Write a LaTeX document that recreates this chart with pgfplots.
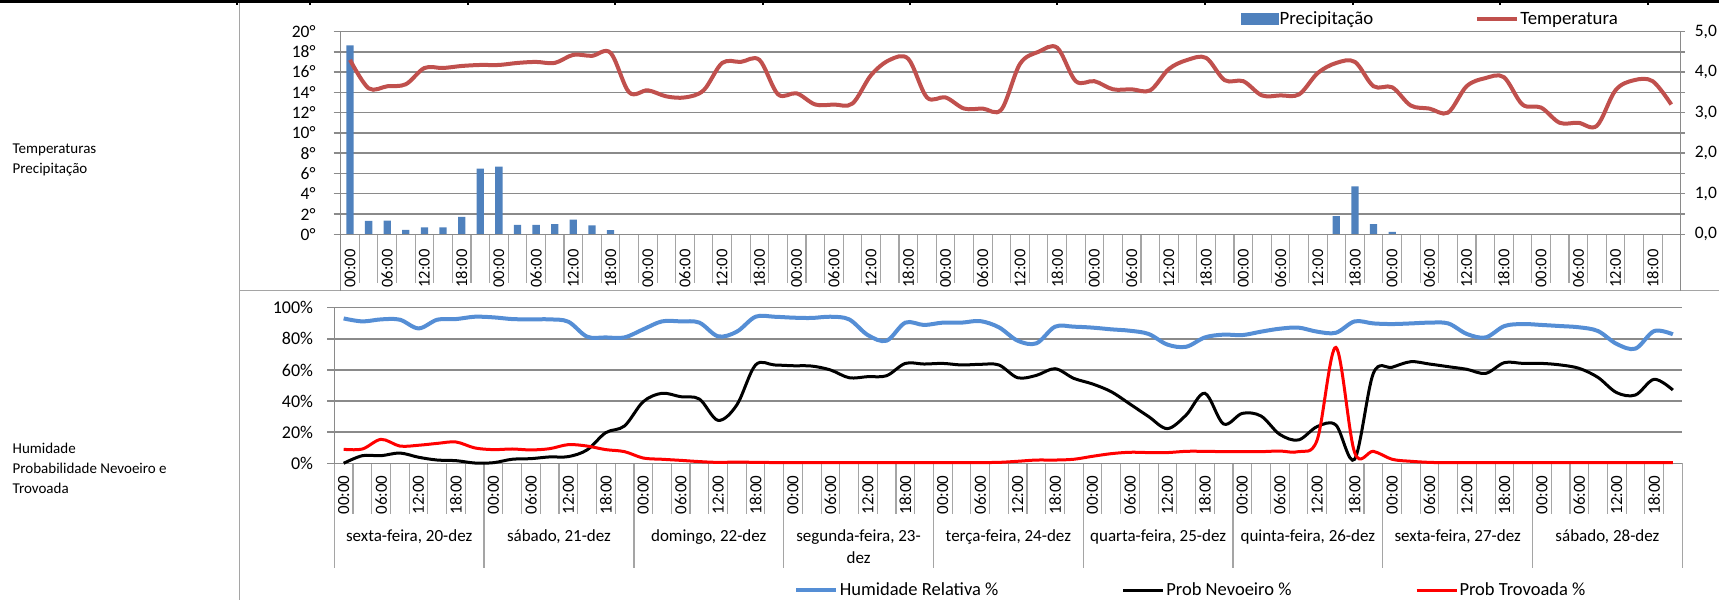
\documentclass[border=0pt]{standalone}
\usepackage{fontspec}
\setmainfont{Carlito}
\usepackage{pgfplots}
\pgfplotsset{compat=1.18}
\usepackage{pgfplotstable}

\definecolor{precip}{RGB}{79,129,189}
\definecolor{temp}{RGB}{192,80,77}
\definecolor{hum}{RGB}{85,142,213}
\definecolor{thun}{RGB}{255,0,0}
\definecolor{gridc}{RGB}{138,138,138}
\definecolor{cellc}{RGB}{165,165,165}

\pgfplotstableread{
i T
0 17.2
1 14.4
2 14.6
3 14.8
4 16.4
5 16.4
6 16.6
7 16.7
8 16.7
9 16.9
10 17.0
11 16.9
12 17.7
13 17.6
14 17.9
15 14.0
16 14.2
17 13.6
18 13.5
19 14.2
20 16.9
21 17.0
22 17.2
23 13.8
24 13.9
25 12.8
26 12.8
27 12.9
28 15.7
29 17.2
30 17.3
31 13.5
32 13.5
33 12.4
34 12.4
35 12.3
36 16.8
37 18.0
38 18.4
39 15.1
40 15.1
41 14.3
42 14.3
43 14.2
44 16.3
45 17.2
46 17.4
47 15.2
48 15.1
49 13.7
50 13.7
51 13.8
52 15.9
53 16.9
54 17.0
55 14.6
56 14.5
57 12.7
58 12.4
59 12.0
60 14.6
61 15.4
62 15.5
63 12.8
64 12.5
65 11.0
66 11.0
67 10.7
68 14.2
69 15.2
70 15.1
71 12.8
}\temptable

\pgfplotstableread{
i P
0 4.66
1 0.33
2 0.34
3 0.11
4 0.17
5 0.17
6 0.43
7 1.62
8 1.67
9 0.23
10 0.23
11 0.25
12 0.36
13 0.22
14 0.10
53 0.45
54 1.18
55 0.25
56 0.06
}\preciptable

\pgfplotstableread{
i H F R
0 93.1 0.0 9.0
1 91.2 4.9 9.2
2 92.5 4.9 15.4
3 92.3 6.6 11.1
4 86.7 3.9 11.6
5 92.3 2.1 12.8
6 92.7 1.7 13.7
7 94.2 0.2 9.9
8 93.8 0.4 8.8
9 92.7 2.6 9.2
10 92.5 3.0 8.6
11 92.5 4.1 9.4
12 91.0 4.3 12.0
13 81.4 8.6 11.1
14 80.9 19.7 8.8
15 80.9 24.0 7.5
16 86.1 39.6 3.4
17 91.2 45.0 2.6
18 91.2 42.8 1.9
19 90.4 41.3 1.1
20 81.6 27.6 0.6
21 84.6 37.5 0.8
22 94.2 63.2 0.6
23 94.2 63.2 0.5
24 93.6 62.7 0.5
25 93.4 62.5 0.5
26 94.2 60.0 0.5
27 92.5 55.0 0.5
28 82.4 55.7 0.5
29 78.8 56.3 0.5
30 90.4 64.2 0.5
31 88.9 63.8 0.5
32 90.4 64.2 0.5
33 90.4 63.2 0.5
34 91.4 63.6 0.5
35 87.4 63.2 0.6
36 78.8 55.0 1.3
37 77.1 56.5 2.1
38 87.8 60.8 2.1
39 87.8 54.6 2.6
40 87.2 51.0 4.5
41 86.1 46.0 6.2
42 85.2 38.1 7.1
43 83.1 30.0 6.9
44 76.3 22.3 6.9
45 74.9 31.0 7.7
46 80.9 45.0 7.7
47 82.7 25.3 7.5
48 82.4 32.1 7.5
49 84.6 30.4 7.5
50 86.5 18.6 7.9
51 87.2 15.0 7.5
52 84.6 23.6 15.0
53 83.9 24.6 74.5
54 91.2 2.6 7.0
55 89.9 57.8 7.7
56 89.5 61.7 2.6
57 89.9 65.3 1.3
58 90.4 63.8 0.6
59 89.9 62.1 0.4
60 83.1 60.4 0.4
61 80.9 57.8 0.4
62 88.2 64.7 0.4
63 89.5 64.2 0.4
64 88.9 64.2 0.4
65 88.2 63.2 0.4
66 87.4 61.0 0.4
67 85.0 55.2 0.4
68 76.7 45.4 0.4
69 73.7 43.9 0.4
70 85.0 54.0 0.4
71 82.9 47.1 0.4
}\bottable

\pgfplotsset{
  timelabels/.style={
    xtick={0,2,...,70},
    xticklabels={00:00,06:00,12:00,18:00,00:00,06:00,12:00,18:00,00:00,06:00,12:00,18:00,
                 00:00,06:00,12:00,18:00,00:00,06:00,12:00,18:00,00:00,06:00,12:00,18:00,
                 00:00,06:00,12:00,18:00,00:00,06:00,12:00,18:00,00:00,06:00,12:00,18:00},
    xtick style={draw=none},
  },
}

\begin{document}
\begin{tikzpicture}
\path[use as bounding box] (0,0) rectangle (1719pt,-600pt);

% sheet structure
\draw[black, line width=2.4pt] (0,-1.6pt) -- (1719pt,-1.6pt);
\foreach \xx in {237,310,468,615,763,910,1057,1205,1353,1500,1648}
  \draw[black, line width=1.6pt] (\xx pt,0) -- (\xx pt,-5pt);
\draw[cellc, line width=1.2pt] (239.5pt,-3pt) -- (239.5pt,-600pt);
\draw[cellc, line width=1.4pt] (240pt,-290.7pt) -- (1719pt,-290.7pt);

% left labels
\begin{scope}[every node/.style={anchor=base west, inner sep=0pt, font=\fontsize{15}{15}\selectfont}]
\node at (12.5pt,-153.3pt) {Temperaturas};
\node at (12.5pt,-173.3pt) {Precipitação};
\node at (12.5pt,-453.3pt) {Humidade};
\node at (12.5pt,-473.3pt) {Probabilidade Nevoeiro e};
\node at (12.5pt,-493.3pt) {Trovoada};
\end{scope}

% top chart cell lines
\foreach \k in {1,...,71}
  \draw[cellc, line width=1.1pt] ({340.7pt+\k*18.611pt},-234.3pt) -- ++(0,-49pt);
\draw[gridc, line width=1.4pt] (340.7pt,-234.3pt) -- (340.7pt,-290.7pt);
\draw[gridc, line width=1.4pt] (1680.7pt,-234.3pt) -- (1680.7pt,-290.7pt);

% bottom chart cell lines
\foreach \k in {1,...,71}
  \draw[cellc, line width=1.1pt] ({334.3pt+\k*18.722pt},-463.3pt) -- ++(0,-51pt);
\foreach \d in {0,...,9}
  \draw[cellc, line width=1.3pt] ({334.3pt+\d*149.78pt},-463.3pt) -- ++(0,-104.4pt);

% day labels
\begin{scope}[every node/.style={anchor=center, inner sep=0pt, font=\fontsize{17}{17}\selectfont}]
\node at ({409.2pt+0*149.78pt},-536.7pt) {sexta-feira, 20-dez};
\node at ({409.2pt+1*149.78pt},-536.7pt) {sábado, 21-dez};
\node at ({409.2pt+2*149.78pt},-536.7pt) {domingo, 22-dez};
\node at ({409.2pt+3*149.78pt},-536.7pt) {segunda-feira, 23-};
\node at ({409.2pt+3*149.78pt},-557.3pt) {dez};
\node at ({409.2pt+4*149.78pt},-536.7pt) {terça-feira, 24-dez};
\node at ({409.2pt+5*149.78pt},-536.7pt) {quarta-feira, 25-dez};
\node at ({409.2pt+6*149.78pt},-536.7pt) {quinta-feira, 26-dez};
\node at ({409.2pt+7*149.78pt},-536.7pt) {sexta-feira, 27-dez};
\node at ({409.2pt+8*149.78pt},-536.7pt) {sábado, 28-dez};
\end{scope}

% ---------- top chart: precipitation (right axis, grid, bars)
\begin{axis}[
  at={(340.7pt,-234.3pt)}, anchor=south west,
  scale only axis, width=1340pt, height=202.8pt,
  xmin=-0.5, xmax=71.5, ymin=0, ymax=5,
  axis x line=none, axis y line*=right,
  axis line style={gridc, line width=1.5pt},
  ytick={0,0.5,1,1.5,2,2.5,3,3.5,4,4.5,5},
  yticklabels={{0,0},{},{1,0},{},{2,0},{},{3,0},{},{4,0},{},{5,0}},
  tick align=outside, major tick length=4pt,
  ytick style={gridc, line width=1.5pt},
  yticklabel style={anchor=west, inner sep=0pt, xshift=10pt, font=\fontsize{17.5}{17.5}\selectfont},
  ymajorgrids, grid style={gridc, line width=1.5pt},
]
\addplot[ybar, bar width=7.3pt, bar shift=0pt, fill=precip, draw=none] table[x=i,y=P] {\preciptable};
\end{axis}

% ---------- top chart: temperature (left axis)
\begin{axis}[
  at={(340.7pt,-234.3pt)}, anchor=south west,
  scale only axis, width=1340pt, height=202.8pt,
  xmin=-0.5, xmax=71.5, ymin=0, ymax=20,
  axis x line*=bottom, axis y line*=left,
  axis line style={gridc, line width=1.5pt},
  ytick={0,2,...,20},
  yticklabels={0°,2°,4°,6°,8°,10°,12°,14°,16°,18°,20°},
  tick align=outside, major tick length=7pt,
  ytick style={gridc, line width=1.5pt},
  yticklabel style={anchor=east, inner sep=0pt, xshift=-18pt, font=\fontsize{17.5}{17.5}\selectfont},
  timelabels,
  xticklabel style={yshift=-8pt, rotate=90, anchor=east, inner sep=0pt, font=\fontsize{16.5}{16.5}\selectfont},
  clip=false,
  legend columns=2,
  legend style={at={(0.6716,1.0616)}, anchor=west, draw=none, fill=none,
    inner sep=0pt, font=\fontsize{18.8}{18.8}\selectfont,
    nodes={inner sep=1.5pt},
    /tikz/every even column/.append style={column sep=100pt}},
]
\addlegendimage{legend image code/.code={\fill[precip] (0pt,-5.5pt) rectangle (37pt,5.5pt);}}
\addlegendentry{Precipitação}
\addplot[temp, line width=4pt, smooth, tension=0.55,
  legend image code/.code={\draw[temp, line width=4pt] (0pt,0pt) -- (40pt,0pt);}]
  table[x=i,y=T] {\temptable};
\addlegendentry{Temperatura}
\end{axis}

% ---------- bottom chart
\begin{axis}[
  at={(334.3pt,-463.3pt)}, anchor=south west,
  scale only axis, width=1348pt, height=155.6pt,
  xmin=-0.5, xmax=71.5, ymin=0, ymax=100,
  axis x line*=bottom, axis y line*=left,
  axis line style={gridc, line width=1.5pt},
  ytick={0,20,...,100},
  yticklabels={0\%,20\%,40\%,60\%,80\%,100\%},
  tick align=outside, major tick length=7pt,
  ytick style={gridc, line width=1.5pt},
  yticklabel style={anchor=east, inner sep=0pt, xshift=-14pt, font=\fontsize{18}{18}\selectfont},
  ymajorgrids, grid style={gridc, line width=1.5pt},
  timelabels,
  xticklabel style={yshift=-5pt, rotate=90, anchor=east, inner sep=0pt, font=\fontsize{17}{17}\selectfont},
  clip=false,
  legend columns=3,
  legend image code/.code={\draw[#1] (0pt,0pt) -- (40pt,0pt);},
  legend style={at={(0.3412,-0.8143)}, anchor=west, draw=none, fill=none,
    inner sep=0pt, font=\fontsize{18.5}{18.5}\selectfont,
    nodes={inner sep=1.5pt},
    /tikz/every even column/.append style={column sep=122pt}},
]
\addplot[hum, line width=4pt, smooth, tension=0.55] table[x=i,y=H] {\bottable};
\addlegendentry{Humidade Relativa \%}
\addplot[black, line width=3pt, smooth, tension=0.55] table[x=i,y=F] {\bottable};
\addlegendentry{Prob Nevoeiro \%}
\addplot[thun, line width=3pt, smooth, tension=0.55] table[x=i,y=R] {\bottable};
\addlegendentry{Prob Trovoada \%}
\end{axis}
\end{tikzpicture}
\end{document}
